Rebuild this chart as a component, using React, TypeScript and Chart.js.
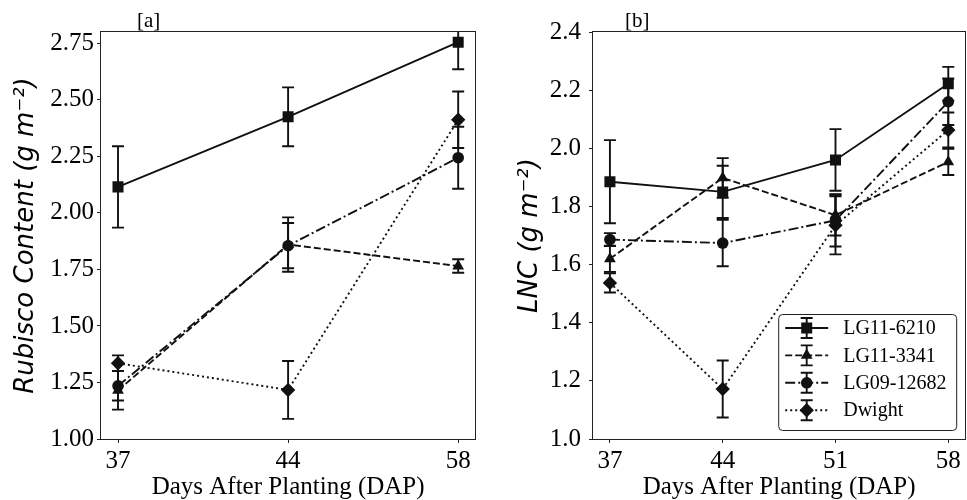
import React, { useEffect, useRef } from 'react';
import { Chart, registerables } from 'chart.js';
import { drawPoint } from 'chart.js/helpers';

Chart.register(...registerables);

// ---------- data ----------
const seriesNames = ['LG11-6210', 'LG11-3341', 'LG09-12682', 'Dwight'];

// Panel [a] : Rubisco content
const dapA = ['37', '44', '58'];
const rubisco6210 = [2.115, 2.425, 2.755];
const rubisco6210Err = [0.18, 0.13, 0.12];
const rubisco3341 = [1.215, 1.86, 1.765];
const rubisco3341Err = [0.085, 0.12, 0.03];
const rubisco12682 = [1.235, 1.855, 2.244];
const rubisco12682Err = [0.065, 0.1, 0.137];
const rubiscoDwight = [1.335, 1.217, 2.412];
const rubiscoDwightErr = [0.035, 0.128, 0.125];
const rubiscoTicks = [1.0, 1.25, 1.5, 1.75, 2.0, 2.25, 2.5, 2.75];

// Panel [b] : LNC
const dapB = [37, 44, 51, 58];
const lnc6210 = [1.885, 1.85, 1.96, 2.222];
const lnc6210Err = [0.143, 0.09, 0.106, 0.058];
const lnc3341 = [1.62, 1.898, 1.77, 1.953];
const lnc3341Err = [0.045, 0.068, 0.07, 0.045];
const lnc12682 = [1.686, 1.674, 1.752, 2.16];
const lnc12682Err = [0.022, 0.08, 0.09, 0.08];
const lncDwight = [1.537, 1.172, 1.735, 2.063];
const lncDwightErr = [0.033, 0.098, 0.1, 0.06];
const lncTicks = [1.0, 1.2, 1.4, 1.6, 1.8, 2.0, 2.2, 2.4];

// ---------- styles ----------
const styles = [
  { pointStyle: 'rect', radius: 7.8, dash: [] as number[] },
  { pointStyle: 'triangle', radius: 6.8, dash: [7, 3] },
  { pointStyle: 'circle', radius: 5.8, dash: [10, 3, 2, 3] },
  { pointStyle: 'rectRot', radius: 7.2, dash: [2, 3] },
];
const INK = '#111';
const SERIF = "'Liberation Serif', 'Times New Roman', serif";
const SANS = "'DejaVu Sans', sans-serif";

function makeDatasets(xs: number[], ys: number[][], errs: number[][]) {
  return ys.map((vals, k) => ({
    label: seriesNames[k],
    data: vals.map((v, i) => ({ x: xs[i], y: v })),
    errors: errs[k],
    borderColor: INK,
    backgroundColor: INK,
    borderWidth: 1.9,
    borderDash: styles[k].dash,
    pointStyle: styles[k].pointStyle,
    pointRadius: styles[k].radius,
    pointHoverRadius: styles[k].radius,
    pointBackgroundColor: INK,
    pointBorderColor: INK,
    pointBorderWidth: 0,
    tension: 0,
    fill: false,
  }));
}

const errorBarPlugin = {
  id: 'errorBars',
  beforeDatasetsDraw(chart: any) {
    const ctx = chart.ctx;
    const ca = chart.chartArea;
    const xs = chart.scales.x;
    const ys = chart.scales.y;
    ctx.save();
    ctx.beginPath();
    ctx.rect(ca.left, ca.top, ca.right - ca.left, ca.bottom - ca.top);
    ctx.clip();
    ctx.strokeStyle = INK;
    ctx.lineWidth = 1.9;
    ctx.setLineDash([]);
    chart.data.datasets.forEach((ds: any) => {
      ds.data.forEach((p: any, i: number) => {
        const e = ds.errors[i];
        const px = xs.getPixelForValue(p.x);
        const y1 = ys.getPixelForValue(p.y + e);
        const y2 = ys.getPixelForValue(p.y - e);
        ctx.beginPath();
        ctx.moveTo(px, y1);
        ctx.lineTo(px, y2);
        ctx.moveTo(px - 6, y1);
        ctx.lineTo(px + 6, y1);
        ctx.moveTo(px - 6, y2);
        ctx.lineTo(px + 6, y2);
        ctx.stroke();
      });
    });
    ctx.restore();
  },
};

const framePlugin = {
  id: 'frame',
  afterDraw(chart: any) {
    const ctx = chart.ctx;
    const ca = chart.chartArea;
    const o = chart.options.plugins.frame || {};
    ctx.save();
    ctx.strokeStyle = '#222';
    ctx.lineWidth = 1;
    ctx.setLineDash([]);
    ctx.strokeRect(Math.round(ca.left) - 0.5, Math.round(ca.top) - 0.5, Math.round(ca.right - ca.left) + 1, Math.round(ca.bottom - ca.top) + 1);
    if (o.tag) {
      ctx.fillStyle = '#000';
      ctx.font = `21px ${SERIF}`;
      ctx.textBaseline = 'alphabetic';
      ctx.textAlign = 'left';
      ctx.fillText(o.tag, ca.left + (o.tagDx || 34), ca.top - 5);
    }
    ctx.restore();
  },
};

const legendPlugin = {
  id: 'errLegend',
  afterDraw(chart: any) {
    const o = chart.options.plugins.errLegend;
    if (!o || !o.show) return;
    const ctx = chart.ctx;
    const ca = chart.chartArea;
    const w = 178;
    const h = 116;
    const x = ca.right - 9 - w;
    const y = ca.bottom - 9 - h;
    ctx.save();
    ctx.beginPath();
    if (ctx.roundRect) ctx.roundRect(x + 0.5, y + 0.5, w, h, 4);
    else ctx.rect(x + 0.5, y + 0.5, w, h);
    ctx.fillStyle = 'rgba(255,255,255,0.85)';
    ctx.fill();
    ctx.strokeStyle = '#222';
    ctx.lineWidth = 1;
    ctx.stroke();
    chart.data.datasets.forEach((ds: any, k: number) => {
      const cy = y + 14 + k * 27.4;
      const cx = x + 28.5;
      ctx.strokeStyle = INK;
      ctx.fillStyle = INK;
      ctx.lineWidth = 1.9;
      ctx.setLineDash(styles[k].dash);
      ctx.beginPath();
      ctx.moveTo(x + 7, cy);
      ctx.lineTo(x + 50, cy);
      ctx.stroke();
      ctx.setLineDash([]);
      ctx.beginPath();
      ctx.moveTo(cx, cy - 10);
      ctx.lineTo(cx, cy + 10);
      ctx.moveTo(cx - 6, cy - 10);
      ctx.lineTo(cx + 6, cy - 10);
      ctx.moveTo(cx - 6, cy + 10);
      ctx.lineTo(cx + 6, cy + 10);
      ctx.stroke();
      drawPoint(ctx, { pointStyle: styles[k].pointStyle, radius: styles[k].radius, rotation: 0, borderWidth: 0 } as any, cx, cy);
      ctx.fillStyle = '#000';
      ctx.font = `20px ${SERIF}`;
      ctx.textBaseline = 'middle';
      ctx.textAlign = 'left';
      ctx.fillText(ds.label, x + 65, cy + 1);
    });
    ctx.restore();
  },
};

function axisCommon() {
  return {
    grid: { display: true, drawOnChartArea: false, drawTicks: true, tickLength: 4, color: '#222', lineWidth: 1 },
    border: { display: false },
  };
}

function buildConfig(panel: 'a' | 'b'): any {
  const isA = panel === 'a';
  const xs = isA ? dapA.map((_, i) => i) : dapB;
  const datasets = isA
    ? makeDatasets(xs, [rubisco6210, rubisco3341, rubisco12682, rubiscoDwight], [rubisco6210Err, rubisco3341Err, rubisco12682Err, rubiscoDwightErr])
    : makeDatasets(xs, [lnc6210, lnc3341, lnc12682, lncDwight], [lnc6210Err, lnc3341Err, lnc12682Err, lncDwightErr]);
  const yTicks = isA ? rubiscoTicks : lncTicks;
  return {
    type: 'line',
    data: { datasets },
    plugins: [errorBarPlugin, framePlugin, legendPlugin],
    options: {
      responsive: false,
      animation: false,
      layout: { padding: { left: 0, right: 3, top: 32, bottom: 0 } },
      plugins: {
        legend: { display: false },
        tooltip: { enabled: false },
        frame: { tag: isA ? '[a]' : '[b]', tagDx: isA ? 36 : 32 },
        errLegend: { show: !isA },
      },
      scales: {
        x: {
          type: 'linear',
          min: isA ? -0.1 : 35.95,
          max: isA ? 2.1 : 59.05,
          ...axisCommon(),
          afterBuildTicks: (s: any) => {
            s.ticks = xs.map((v) => ({ value: v }));
          },
          afterFit: (s: any) => {
            s.height = 61;
          },
          ticks: {
            color: '#000',
            font: { family: SERIF, size: 25 },
            padding: 3,
            maxRotation: 0,
            callback: (v: number) => (isA ? dapA[Math.round(v)] : String(v)),
          },
          title: {
            display: true,
            text: 'Days After Planting (DAP)',
            color: '#000',
            font: { family: SERIF, size: 25 },
            padding: { top: 0, bottom: -2 },
          },
        },
        y: {
          type: 'linear',
          min: 1.0,
          max: isA ? 2.8 : 2.4,
          ...axisCommon(),
          afterBuildTicks: (s: any) => {
            s.ticks = yTicks.map((v) => ({ value: v }));
          },
          afterFit: (s: any) => {
            s.width = isA ? 101 : 110;
          },
          ticks: {
            color: '#000',
            font: { family: SERIF, size: 25 },
            padding: isA ? 3 : 8,
            callback: (v: number) => v.toFixed(isA ? 2 : 1),
          },
          title: {
            display: true,
            text: isA ? 'Rubisco Content (g m\u207B\u00B2)' : 'LNC (g m\u207B\u00B2)',
            color: '#000',
            font: { family: SANS, size: 26, style: 'italic' },
            padding: { top: isA ? 11 : 32, bottom: 0 },
          },
        },
      },
    },
  };
}

export default function App() {
  const refA = useRef<HTMLCanvasElement | null>(null);
  const refB = useRef<HTMLCanvasElement | null>(null);

  useEffect(() => {
    const a = new Chart(refA.current as HTMLCanvasElement, buildConfig('a'));
    const b = new Chart(refB.current as HTMLCanvasElement, buildConfig('b'));
    return () => {
      a.destroy();
      b.destroy();
    };
  }, []);

  return (
    <div style={{ position: 'fixed', left: 0, top: 0, width: 967, height: 500, overflow: 'hidden', background: '#fff' }}>
      <canvas ref={refA} width={483} height={500} style={{ position: 'absolute', left: 0, top: 0, width: 483, height: 500 }} />
      <canvas ref={refB} width={490} height={500} style={{ position: 'absolute', left: 483, top: 0, width: 490, height: 500 }} />
    </div>
  );
}
